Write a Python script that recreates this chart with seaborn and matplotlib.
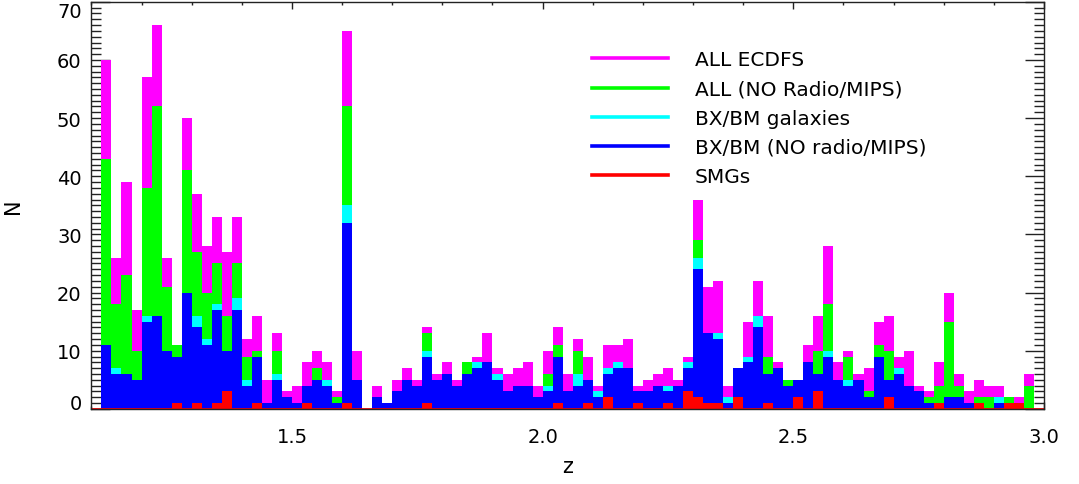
import numpy as np
import pandas as pd
import matplotlib
matplotlib.use("Agg")
import matplotlib.pyplot as plt
import seaborn as sns
from matplotlib.lines import Line2D
from matplotlib.ticker import MultipleLocator

# ---------------- data (counts per redshift bin, width 0.02 starting at z=1.12) ----------------
z_start = 1.12
z_step = 0.02

all_ecdfs = [60, 26, 39, 17, 57, 66, 26, 11, 50, 37, 28, 33, 27, 33, 12, 16, 5, 13, 3, 4,
             8, 10, 8, 3, 65, 10, 0, 4, 1, 5, 7, 5, 14, 6, 8, 5, 8, 9, 13, 7,
             6, 7, 8, 4, 10, 14, 6, 12, 9, 4, 11, 11, 12, 4, 5, 6, 7, 5, 9, 36,
             21, 22, 4, 7, 15, 22, 16, 8, 5, 5, 11, 16, 28, 8, 10, 6, 7, 15, 16, 9,
             10, 4, 3, 8, 20, 6, 3, 5, 4, 4, 2, 2, 6, 0]
all_no_radio = [43, 18, 23, 10, 38, 52, 21, 11, 41, 27, 20, 25, 16, 25, 9, 10, 1, 10, 2, 1,
                4, 7, 5, 2, 52, 5, 0, 2, 1, 3, 5, 4, 13, 5, 6, 4, 8, 8, 8, 6,
                3, 4, 4, 2, 6, 11, 3, 10, 5, 3, 7, 8, 7, 3, 3, 4, 4, 4, 8, 29,
                13, 13, 2, 7, 9, 16, 9, 7, 5, 5, 8, 10, 18, 5, 9, 5, 3, 11, 10, 7,
                4, 3, 2, 4, 15, 4, 1, 2, 2, 2, 2, 1, 4, 0]
bxbm_all = [11, 7, 6, 5, 16, 16, 10, 9, 20, 16, 12, 18, 10, 19, 5, 9, 1, 6, 2, 1,
            4, 5, 5, 1, 35, 5, 0, 2, 1, 3, 5, 4, 10, 5, 6, 4, 6, 8, 8, 6,
            3, 4, 4, 2, 4, 9, 3, 6, 5, 3, 7, 8, 7, 3, 3, 4, 4, 4, 8, 26,
            13, 13, 2, 7, 9, 16, 6, 7, 4, 5, 8, 6, 10, 5, 5, 5, 2, 9, 5, 7,
            4, 3, 1, 1, 2, 2, 1, 1, 0, 2, 1, 1, 0, 0]
bxbm_no_radio = [11, 6, 6, 5, 15, 16, 10, 9, 20, 14, 11, 17, 10, 17, 4, 9, 1, 5, 2, 1,
                 4, 5, 4, 1, 32, 5, 0, 2, 1, 3, 5, 4, 9, 5, 6, 4, 6, 7, 8, 5,
                 3, 4, 4, 2, 3, 9, 3, 4, 5, 2, 6, 7, 7, 3, 3, 4, 3, 4, 7, 24,
                 13, 12, 1, 7, 8, 14, 6, 7, 4, 5, 8, 6, 9, 5, 4, 5, 2, 9, 5, 6,
                 4, 3, 1, 1, 2, 2, 1, 1, 0, 1, 1, 1, 0, 0]
smgs = [0, 0, 0, 0, 0, 0, 0, 1, 0, 1, 0, 1, 3, 0, 0, 1, 0, 0, 0, 0,
        1, 0, 0, 0, 1, 0, 0, 0, 0, 0, 0, 0, 1, 0, 0, 0, 0, 0, 0, 0,
        0, 0, 0, 0, 0, 1, 0, 0, 1, 0, 2, 0, 0, 1, 0, 0, 1, 0, 3, 2,
        1, 1, 0, 2, 0, 0, 1, 0, 0, 2, 0, 3, 0, 0, 0, 0, 0, 0, 2, 0,
        0, 0, 0, 1, 0, 0, 0, 1, 0, 0, 1, 1, 0, 0]

series_labels = ["ALL ECDFS", "ALL (NO Radio/MIPS)", "BX/BM galaxies",
                 "BX/BM (NO radio/MIPS)", "SMGs"]
series_counts = [all_ecdfs, all_no_radio, bxbm_all, bxbm_no_radio, smgs]
series_colors = ["#FF00FF", "#00FF00", "#00FFFF", "#0000FF", "#FF0000"]

x_ticks = [1.5, 2.0, 2.5, 3.0]
y_ticks = [0, 10, 20, 30, 40, 50, 60, 70]

# ---------------- figure ----------------
n_bins = len(all_ecdfs)
edges = [round(z_start + z_step * k, 4) for k in range(n_bins + 1)]
centers = [round(e + z_step / 2, 4) for e in edges[:-1]]

W, H = 1079, 485
x_left_px, x_right_px = 91.4, 1044.0
y_top_px, y_bot_px = 2.8, 409.85
fig = plt.figure(figsize=(W / 100, H / 100), dpi=100)
ax = fig.add_axes([x_left_px / W, 1 - y_bot_px / H,
                   (x_right_px - x_left_px) / W, (y_bot_px - y_top_px) / H])

for lab, cnt, col in zip(series_labels, series_counts, series_colors):
    df = pd.DataFrame({"z": centers, "N": cnt})
    sns.histplot(data=df, x="z", weights="N", bins=edges, element="step",
                 fill=True, color=col, alpha=1, linewidth=0, ax=ax)

ax.axhline(0, color="#FF0000", lw=2.0, zorder=1.5)
ax.set_axisbelow(True)

ax.set_xlim(1.10, 3.0)
ax.set_ylim(0, 70)
ax.set_xticks(x_ticks)
ax.set_xticklabels([f"{v:.1f}" for v in x_ticks])
ax.set_yticks(y_ticks)
ax.set_yticklabels([str(v) for v in y_ticks])
ax.xaxis.set_minor_locator(MultipleLocator(0.1))
ax.yaxis.set_minor_locator(MultipleLocator(1))

ax.tick_params(axis="x", which="both", direction="in", top=True, bottom=True,
               labelsize=14, pad=13, color="#222222")
ax.tick_params(axis="x", which="major", length=5, width=1)
ax.tick_params(axis="x", which="minor", length=2.5, width=1)
ax.tick_params(axis="y", which="both", direction="in", left=True, right=True,
               labelsize=14, pad=7, color="#222222")
ax.tick_params(axis="y", which="major", length=13.5, width=1)
ax.tick_params(axis="y", which="minor", length=7, width=1)

ylabels = ax.get_yticklabels()
ylabels[0].set_verticalalignment("baseline")
ylabels[-1].set_verticalalignment("top")

for s in ax.spines.values():
    s.set_linewidth(1.0)
    s.set_color("#222222")

ax.set_xlabel("z", fontsize=15, labelpad=7)
ax.set_ylabel("N", fontsize=15)
ax.yaxis.set_label_coords(-0.072, 0.5)

handles = [Line2D([0], [0], color=c, lw=2.6) for c in series_colors]
ax.legend(handles, series_labels, loc="upper left",
          bbox_to_anchor=(592 / W, 1 - 51.5 / H), bbox_transform=fig.transFigure,
          frameon=False, fontsize=14.5, handlelength=3.78, handletextpad=1.34,
          labelspacing=0.5, borderpad=0, borderaxespad=0)

fig.savefig("out.png", dpi=100)
